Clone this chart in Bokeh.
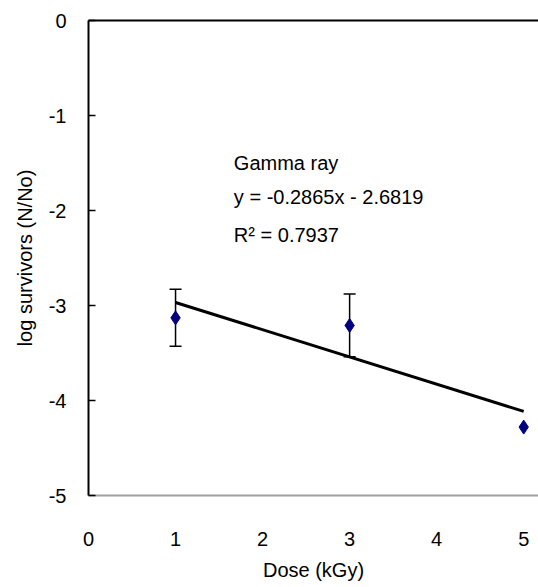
from bokeh.plotting import figure
from bokeh.models import LinearAxis, Range1d, Label, Whisker, ColumnDataSource, FixedTicker
from bokeh.embed import file_html
from bokeh.resources import INLINE

# Data
dose = [1, 3, 5]
log_surv = [-3.13, -3.21, -4.28]
err = [0.30, 0.33]
slope = -0.2865
intercept = -2.6819
x_ticks = [0, 1, 2, 3, 4, 5]
y_ticks = [0, -1, -2, -3, -4, -5]
y_tick_labels = {0: "0", -1: "-1", -2: "-2", -3: "-3", -4: "-4", -5: "-5"}
annot = ["Gamma ray", "y = -0.2865x - 2.6819", "R\u00b2 = 0.7937"]

FONT = "Liberation Sans"
FS = "20px"

p = figure(width=538, height=587, output_backend="svg", toolbar_location=None,
           x_range=Range1d(0, 5.17), y_range=Range1d(-5, 0),
           min_border_left=88, min_border_top=20, min_border_bottom=92,
           min_border_right=0)
p.outline_line_color = None
p.grid.visible = False
p.background_fill_color = "white"
p.border_fill_color = "white"

# x axis
xa = p.xaxis[0]
xa.ticker = FixedTicker(ticks=x_ticks)
xa.axis_line_color = "#a0a0a0"
xa.axis_line_width = 2
xa.major_tick_line_color = None
xa.minor_tick_line_color = None
xa.major_label_standoff = 30
xa.major_label_text_font = FONT
xa.major_label_text_font_size = FS
xa.major_label_text_color = "black"
xa.axis_label = "Dose (kGy)"
xa.axis_label_text_font = FONT
xa.axis_label_text_font_size = FS
xa.axis_label_text_font_style = "normal"
xa.axis_label_text_color = "black"
xa.axis_label_standoff = 10

# y axis
ya = p.yaxis[0]
ya.ticker = FixedTicker(ticks=y_ticks)
ya.major_label_overrides = y_tick_labels
ya.axis_line_color = "black"
ya.axis_line_width = 2
ya.major_tick_in = 7
ya.major_tick_out = 0
ya.major_tick_line_color = "black"
ya.major_tick_line_width = 1.5
ya.minor_tick_line_color = None
ya.major_label_standoff = 22
ya.major_label_text_font = FONT
ya.major_label_text_font_size = FS
ya.major_label_text_color = "black"
ya.axis_label = "log survivors (N/No)"
ya.axis_label_text_font = FONT
ya.axis_label_text_font_size = FS
ya.axis_label_text_font_style = "normal"
ya.axis_label_text_color = "black"
ya.axis_label_standoff = 10

# top border line
top = LinearAxis(ticker=FixedTicker(ticks=[]), major_label_text_font_size="0px",
                 major_tick_line_color=None, minor_tick_line_color=None,
                 axis_line_color="black", axis_line_width=2)
p.add_layout(top, "above")

# error bars
eb_src = ColumnDataSource(data=dict(
    x=dose[:2],
    upper=[y + e for y, e in zip(log_surv[:2], err)],
    lower=[y - e for y, e in zip(log_surv[:2], err)],
))
w = Whisker(base="x", upper="upper", lower="lower", source=eb_src,
            line_color="black", line_width=1.5)
w.upper_head.size = 12
w.lower_head.size = 12
w.upper_head.line_width = 1.5
w.lower_head.line_width = 1.5
p.add_layout(w)

# trend line
tx = [dose[0], dose[-1]]
ty = [slope * v + intercept for v in tx]
p.line(tx, ty, line_color="black", line_width=3)

# markers
p.scatter(dose, log_surv, marker="diamond", size=14, fill_color="#000080",
          line_color="#000080")

# annotations
ys = [-1.5, -1.853, -2.26]
for t, yy in zip(annot, ys):
    p.add_layout(Label(x=1.67, y=yy, text=t, text_font=FONT, text_font_size=FS,
                       text_baseline="middle", text_color="black"))

open("out.html", "w").write(file_html(p, INLINE))
